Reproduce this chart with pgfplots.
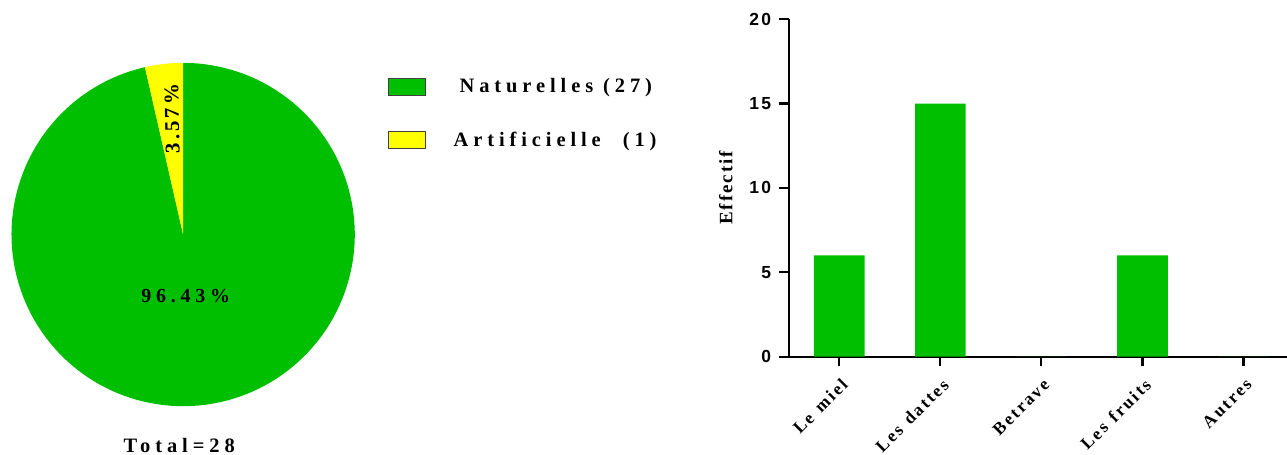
\documentclass[border=0pt]{standalone}
\usepackage{pgfplots}
\pgfplotsset{compat=1.18}
\usepackage{fontspec}
\setmainfont{Liberation Serif}
\newfontfamily\spfont{Liberation Serif}[LetterSpace=24]
\newfontfamily\spfontb{Liberation Serif}[LetterSpace=14]
\newfontfamily\spfontx{Liberation Serif}[LetterSpace=13, WordSpace=1.25]
\newfontfamily\spfontc{Liberation Serif}[LetterSpace=10]
\newfontfamily\arialsp{Liberation Sans}[LetterSpace=12]
\definecolor{pgreen}{RGB}{0,191,0}
\definecolor{pyellow}{RGB}{255,255,0}
\def\nNat{27}
\def\nArt{1}
\begin{document}
\pgfmathsetmacro\aArt{360*\nArt/(\nNat+\nArt)}
\begin{tikzpicture}[x=1bp,y=1bp]
\clip (0,0) rectangle (1287,455);
% ---------------- pie ----------------
\begin{axis}[
  at={(9bp,48bp)}, anchor=south west,
  scale only axis, width=344bp, height=344bp,
  xmin=-1, xmax=1, ymin=-1, ymax=1,
  hide axis, clip=false,
  legend style={draw=none, fill=none, inner sep=0pt,
    at={(rel axis cs:1.096,0.96)}, anchor=north west,
    font=\spfont\bfseries\fontsize{20.5bp}{22bp}\selectfont,
    row sep=33.5bp, column sep=26bp},
  legend cell align=left,
  legend image code/.code={\draw[#1, draw=black!75, line width=0.8bp] (0bp,-8.5bp) rectangle (37bp,8.5bp);},
]
\addplot[fill=pgreen, draw=none, domain=90+\aArt:450, samples=150, variable=\t]
  ({cos(\t)},{sin(\t)}) -- (axis cs:0,0) -- cycle;
\addlegendentry{\hspace{6bp}Naturelles (27)}
\addplot[fill=pyellow, draw=none, domain=90:90+\aArt, samples=10, variable=\t]
  ({cos(\t)},{sin(\t)}) -- (axis cs:0,0) -- cycle;
\addlegendentry{Artificielle\hspace{12bp} (1)}
\node[font=\spfont\bfseries\fontsize{20bp}{22bp}\selectfont] at (axis cs:0.015,-0.36) {96.43\%};
\node[font=\spfontb\bfseries\fontsize{21bp}{22bp}\selectfont, rotate=91] at (axis cs:-0.064,0.674) {3.57\%};
\end{axis}
\node[anchor=north, inner sep=0pt, font=\spfont\bfseries\fontsize{20.5bp}{22bp}\selectfont] at (177,16) {Total=28};
% ---------------- bars ----------------
\begin{axis}[
  at={(787.7bp,97.7bp)}, anchor=south west,
  scale only axis, width=499.3bp, height=338bp,
  xmin=-0.5, xmax=4.43, ymin=0, ymax=20,
  axis x line*=bottom, axis y line*=left,
  axis line style={line width=2.2bp, -},
  tick style={line width=2.2bp, black},
  major tick length=9.5bp, tick align=outside,
  ytick={0,5,10,15,20},
  xtick={0,1,2,3,4},
  xticklabels={Le miel, Les dattes, Betrave, Les fruits, Autres},
  /pgf/number format/assume math mode=true,
  yticklabel style={font=\arialsp\bfseries\fontsize{17.5bp}{18bp}\selectfont, inner sep=2bp, xshift=-6bp},
  xticklabel style={font=\spfontx\bfseries\fontsize{17.5bp}{19bp}\selectfont, xshift=1bp, yshift=-10bp, rotate=45, anchor=north east, inner sep=1bp},
  ylabel={Effectif},
  ylabel style={font=\spfontc\bfseries\fontsize{19bp}{20bp}\selectfont, at={(axis description cs:-0.126,0.5)}, anchor=center, rotate=0},
  clip=false,
]
\addplot[ybar, fill=pgreen, draw=none, bar width=50.7bp, bar shift=0pt]
  coordinates {(0,6) (1,15) (2,0) (3,6) (4,0)};
\end{axis}
\end{tikzpicture}
\end{document}
